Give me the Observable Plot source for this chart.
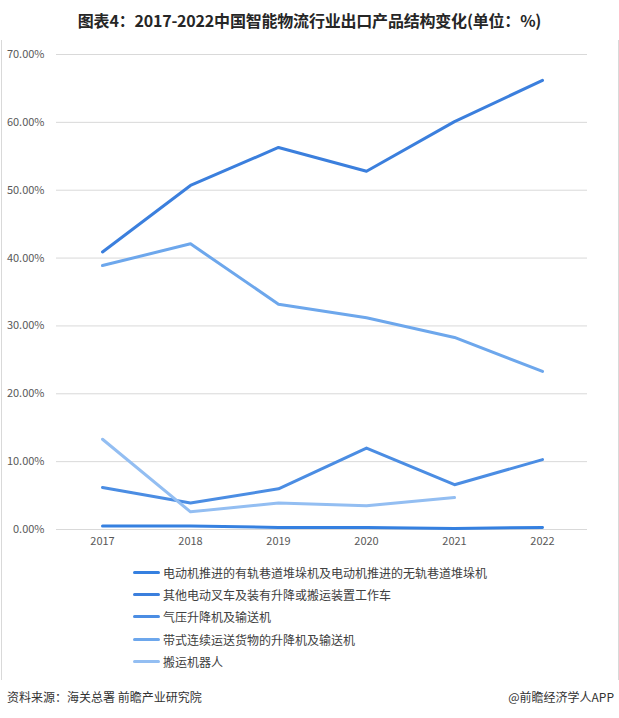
<!DOCTYPE html>
<html>
<head>
<meta charset="utf-8">
<script src="https://cdn.jsdelivr.net/npm/d3@7"></script>
<script src="https://cdn.jsdelivr.net/npm/@observablehq/plot@0.6"></script>
<style>
  body { margin: 0; width: 619px; height: 718px; background: #fff; font-family: "Noto Sans CJK SC", "Microsoft YaHei", sans-serif; position: relative; overflow: hidden; }
  #title { position: absolute; top: 8px; left: 0; width: 619px; text-align: center; font-size: 16px; font-weight: bold; color: #262626; letter-spacing: -0.2px; }
  #frame { position: absolute; top: 40px; left: 1px; width: 616px; height: 640px; border-left: 1px solid #d9d9d9; border-right: 1px solid #d9d9d9; }
  #chart { position: absolute; top: 40px; left: 0; }
  #legend { position: absolute; top: 561px; left: 133px; font-size: 12px; color: #404040; }
  .item { height: 22.3px; display: flex; align-items: center; }
  .sw { width: 27px; height: 3px; border-radius: 1.5px; margin-right: 3px; }
  #src { position: absolute; top: 688px; left: 7px; font-size: 12px; color: #333; }
  #brand { position: absolute; top: 688px; right: 5px; font-size: 12px; color: #333; }
</style>
</head>
<body>
<div id="title">图表4：2017-2022中国智能物流行业出口产品结构变化(单位：%)</div>
<div id="frame"></div>
<div id="chart"></div>
<div id="legend"></div>
<div id="src">资料来源：海关总署 前瞻产业研究院</div>
<div id="brand">@前瞻经济学人APP</div>
<script>
const years = ["2017", "2018", "2019", "2020", "2021", "2022"];
const seriesNames = [
  "电动机推进的有轨巷道堆垛机及电动机推进的无轨巷道堆垛机",
  "其他电动叉车及装有升降或搬运装置工作车",
  "气压升降机及输送机",
  "带式连续运送货物的升降机及输送机",
  "搬运机器人"
];
const seriesColors = ["#3580e0", "#3b7fdd", "#4b8de3", "#6da7ec", "#93bef2"];
const s1 = [0.5, 0.5, 0.3, 0.3, 0.15, 0.3];
const s2 = [40.9, 50.7, 56.3, 52.8, 60.1, 66.2];
const s3 = [6.2, 3.9, 6.0, 12.0, 6.6, 10.3];
const s4 = [38.9, 42.1, 33.2, 31.2, 28.3, 23.3];
const s5 = [13.3, 2.6, 3.9, 3.5, 4.7, null];
const yTicks = [0, 10, 20, 30, 40, 50, 60, 70];

const allSeries = [s1, s2, s3, s4, s5];
const rows = [];
allSeries.forEach((vals, i) => {
  vals.forEach((v, j) => {
    if (v !== null) rows.push({ series: seriesNames[i], year: years[j], value: v });
  });
});

const chart = Plot.plot({
  width: 619,
  height: 514,
  marginLeft: 56,
  marginRight: 32,
  marginTop: 14,
  marginBottom: 25,
  style: { fontFamily: "Noto Sans CJK SC, sans-serif", fontSize: "11px", color: "#595959", background: "transparent" },
  x: { type: "point", domain: years, padding: 0.5, label: null, tickSize: 0, tickPadding: 8 },
  y: { domain: [0, 70], label: null, ticks: yTicks, tickSize: 0, tickPadding: 12, tickFormat: d => d.toFixed(2) + "%" },
  color: { domain: seriesNames, range: seriesColors },
  marks: [
    Plot.ruleY(yTicks, { stroke: "#d9d9d9", strokeWidth: 1 }),
    Plot.line(rows, { x: "year", y: "value", z: "series", stroke: "series", strokeWidth: 3, strokeLinecap: "round", strokeLinejoin: "round" })
  ]
});
document.getElementById("chart").appendChild(chart);

const legend = document.getElementById("legend");
seriesNames.forEach((n, i) => {
  const d = document.createElement("div");
  d.className = "item";
  d.innerHTML = `<span class="sw" style="background:${seriesColors[i]}"></span><span>${n}</span>`;
  legend.appendChild(d);
});
</script>
</body>
</html>
